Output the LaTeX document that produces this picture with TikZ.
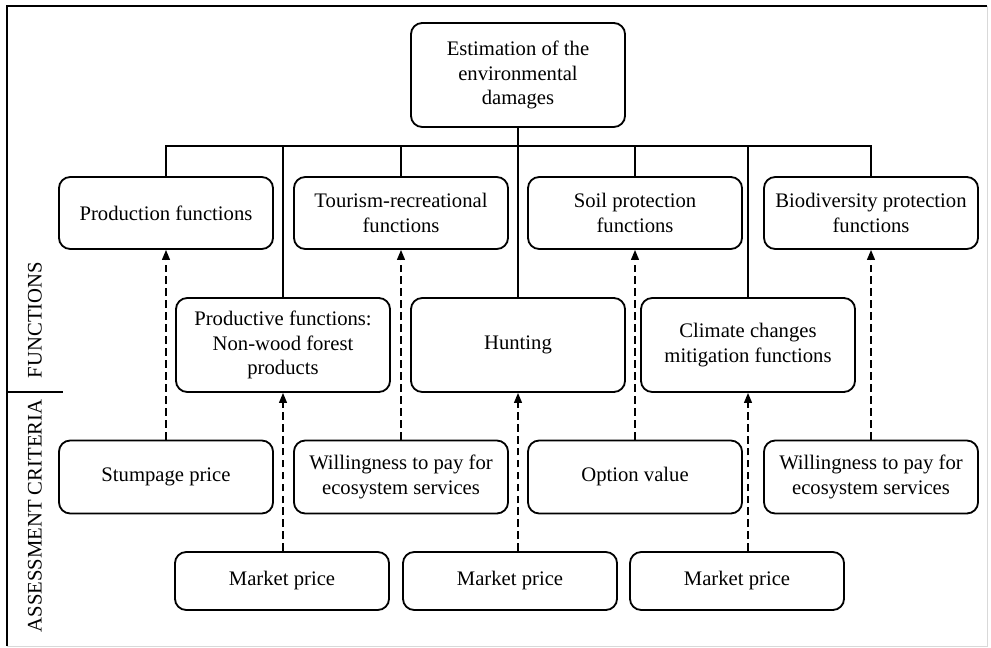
\documentclass[tikz,border=0pt]{standalone}
\usepackage{fontspec}
\setmainfont{Liberation Serif}
\usepackage{tikz}
\usetikzlibrary{arrows.meta}

\tikzset{
    box/.style={draw, rounded corners=8pt, line width=1.3pt, align=center,
        minimum width=5.35cm, inner sep=2pt,
        font=\fontsize{14.7}{17.7}\selectfont},
    tree/.style={line width=1.3pt},
    dasharrow/.style={line width=1.1pt, dash pattern=on 5.5pt off 3pt,
        -{Triangle[length=7pt,width=5.5pt]}},
    side/.style={rotate=90, font=\fontsize{14.7}{17.7}\selectfont}
}

\begin{document}
\begin{tikzpicture}[x=0.025cm, y=-0.025cm]
        \useasboundingbox (0,0) rectangle (991,648);

        % frame
        \draw[gray!30, line width=0.6pt] (987,6) -- (987,646) -- (7,646);
        \draw[line width=1.3pt] (7,646) -- (7,6) -- (987,6);

        % side labels
        \node[side] (fun)  at (35,320) {FUNCTIONS};
        \node[side] (crit) at (35,516) {ASSESSMENT CRITERIA};
        \coordinate (sepl) at (7,392);
        \coordinate (sepr) at (63,392);
        \draw[line width=1.3pt] (sepl) -- (sepr);

        \node[box, minimum height=2.6cm] (top) at (518,75)
            {Estimation of the\\environmental\\damages};

        % functions
        \node[box, minimum height=1.8cm] (prod) at (166,213) {Production functions};
        \node[box, minimum height=1.8cm] (tour) at (401,213) {Tourism-recreational\\functions};
        \node[box, minimum height=1.8cm] (soil) at (635,213) {Soil protection\\functions};
        \node[box, minimum height=1.8cm] (bio)  at (871,213) {Biodiversity protection\\functions};

        \node[box, minimum height=2.35cm] (nwfp) at (283,345) {Productive functions:\\Non-wood forest\\products};
        \node[box, minimum height=2.35cm] (hunt) at (518,345) {Hunting};
        \node[box, minimum height=2.35cm] (clim) at (748,345) {Climate changes\\mitigation functions};

        % assessment criteria
        \node[box, minimum height=1.825cm] (stump) at (166,477) {Stumpage price};
        \node[box, minimum height=1.825cm] (wtp1)  at (401,477) {Willingness to pay for\\ecosystem services};
        \node[box, minimum height=1.825cm] (opt)   at (635,477) {Option value};
        \node[box, minimum height=1.825cm] (wtp2)  at (871,477) {Willingness to pay for\\ecosystem services};

        \node[box, minimum height=1.45cm] (mp1) at (282,581) {Market price};
        \node[box, minimum height=1.45cm] (mp2) at (510,581) {Market price};
        \node[box, minimum height=1.45cm] (mp3) at (737,581) {Market price};

        % tree
        \coordinate (bus) at (0,146);
        \draw[tree] (top.south) -- (top.south |- bus);
        \draw[tree] (prod.north) -- (prod.north |- bus) -- (bio.north |- bus) -- (bio.north);
        \foreach \n in {nwfp,tour,hunt,soil,clim}
            \draw[tree] (\n.north) -- (\n.north |- bus);

        % criteria to functions
        \draw[dasharrow] (prod.south |- stump.north) -- (prod.south);
        \draw[dasharrow] (tour.south |- wtp1.north) -- (tour.south);
        \draw[dasharrow] (soil.south |- opt.north) -- (soil.south);
        \draw[dasharrow] (bio.south |- wtp2.north) -- (bio.south);
        \draw[dasharrow] (nwfp.south |- mp1.north) -- (nwfp.south);
        \draw[dasharrow] (hunt.south |- mp2.north) -- (hunt.south);
        \draw[dasharrow] (clim.south |- mp3.north) -- (clim.south);
    \end{tikzpicture}
\end{document}
